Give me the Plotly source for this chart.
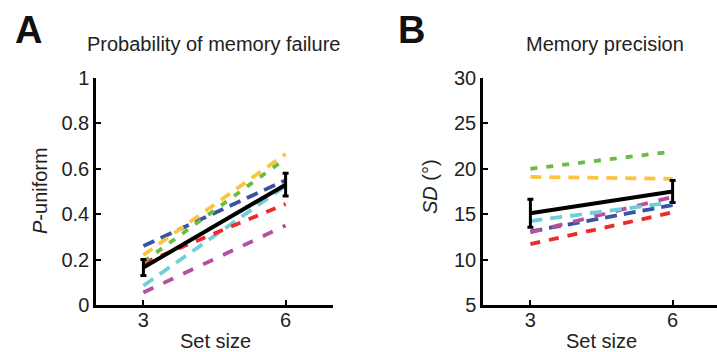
import plotly.graph_objects as go

set_size = [3, 6]
series_colors = ["#3a54a5", "#fcc43c", "#6cbb45", "#ee2b2b", "#6dcfdc", "#b5509e"]
series_names = ["blue", "yellow", "green", "red", "cyan", "magenta"]

# Panel A: P-uniform per subject (set size 3, 6)
pu_blue = [0.26, 0.55]
pu_yellow = [0.22, 0.665]
pu_green = [0.19, 0.645]
pu_red = [0.185, 0.445]
pu_cyan = [0.085, 0.525]
pu_magenta = [0.055, 0.35]
pu_mean = [0.165, 0.53]
pu_err = [0.035, 0.05]

# Panel B: SD per subject (deg)
sd_blue = [13.1, 16.0]
sd_yellow = [19.1, 18.9]
sd_green = [20.0, 21.9]
sd_red = [11.7, 15.2]
sd_cyan = [14.25, 16.3]
sd_magenta = [13.0, 16.9]
sd_mean = [15.1, 17.5]
sd_err = [1.55, 1.2]

pu_series = [pu_blue, pu_yellow, pu_green, pu_red, pu_cyan, pu_magenta]
sd_series = [sd_blue, sd_yellow, sd_green, sd_red, sd_cyan, sd_magenta]
dashes = ["12px,7px", "11px,8px", "7px,9px", "10px,9px", "12px,8px", "11px,11px"]

W, H = 717, 352
FONT = "Liberation Sans, Arial, Helvetica, sans-serif"
fig = go.Figure()

def add_panel(series, mean, err, xa, ya, order):
    for i in order:
        fig.add_trace(go.Scatter(x=set_size, y=series[i], mode="lines", xaxis=xa, yaxis=ya,
                                 line=dict(color=series_colors[i], width=3.8, dash=dashes[i]),
                                 showlegend=False, hoverinfo="skip"))
    fig.add_trace(go.Scatter(x=set_size, y=mean, mode="lines", xaxis=xa, yaxis=ya,
                             line=dict(color="black", width=4),
                             error_y=dict(type="data", array=err, visible=True, color="black",
                                          thickness=3, width=3),
                             showlegend=False))

add_panel(pu_series, pu_mean, pu_err, "x", "y", [5, 4, 3, 0, 2, 1])
add_panel(sd_series, sd_mean, sd_err, "x2", "y2", [3, 0, 5, 4, 1, 2])

ydom = [47 / H, 274 / H]
axcommon = dict(showline=True, linecolor="black", linewidth=2.5, ticks="inside", ticklen=5,
                tickwidth=2, tickcolor="black", showgrid=False, zeroline=False, automargin=False,
                tickfont=dict(family=FONT, size=20, color="#222"))

fig.update_layout(
    width=W, height=H, autosize=False, margin=dict(l=0, r=0, t=0, b=0, pad=0, autoexpand=False),
    paper_bgcolor="white", plot_bgcolor="white",
    xaxis=dict(domain=[96 / W, 333 / W], range=[2, 7], tickvals=[3, 6], anchor="y",
               ticklabelstandoff=-5, **axcommon),
    yaxis=dict(domain=ydom, range=[0, 1], tickvals=[0, 0.2, 0.4, 0.6, 0.8, 1],
               ticktext=["0", "0.2", "0.4", "0.6", "0.8", "1"], anchor="x", **axcommon),
    xaxis2=dict(domain=[483 / W, 1], range=[2, 2 + (717 - 483) / 47.4], tickvals=[3, 6], anchor="y2",
                ticklabelstandoff=-5, **axcommon),
    yaxis2=dict(domain=ydom, range=[5, 30], tickvals=[5, 10, 15, 20, 25, 30], anchor="x2", **axcommon),
)

def ann(text, x, y, size=20, bold=False, angle=0, color="#222"):
    fig.add_annotation(text=("<b>%s</b>" % text) if bold else text, x=x / W, y=1 - y / H,
                       xref="paper", yref="paper", showarrow=False, textangle=angle,
                       xanchor="center", yanchor="middle",
                       font=dict(family=FONT, size=size, color=color))

ann("A", 28, 30, size=38, bold=True, color="#111")
ann("B", 412, 30, size=38, bold=True, color="#111")
ann("Probability of memory failure", 213, 44)
ann("Memory precision", 605, 44)
ann("<i>P</i>-uniform", 40, 191, angle=-90)
ann("<i>SD</i> (°)", 430, 187, angle=-90)
ann("Set size", 215, 341)
ann("Set size", 601, 341)

fig.write_html("out.html", config={"responsive": False})
